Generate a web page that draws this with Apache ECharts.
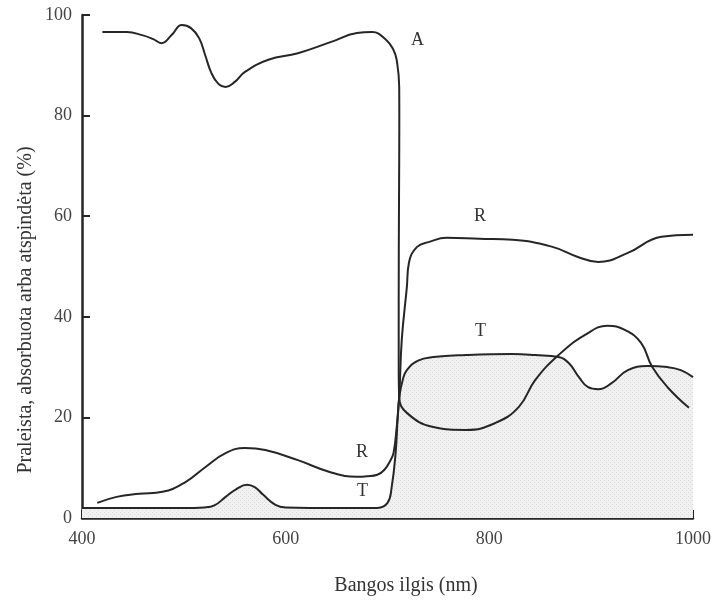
<!DOCTYPE html>
<html>
<head>
<meta charset="utf-8">
<script src="https://cdn.jsdelivr.net/npm/echarts@6/dist/echarts.min.js"></script>
<style>
  html, body { margin: 0; padding: 0; background: #fff; }
  #chart { width: 714px; height: 603px; }
</style>
</head>
<body>
<div id="chart"></div>
<script>
// wavelength (nm) and percent values
const tWave = [400, 450, 500, 520, 530, 541, 552, 562, 570, 578, 590, 600, 650, 690, 700, 704, 708, 710, 711.5, 715, 719, 730, 745, 777, 823, 845, 868, 878, 888, 897, 907, 920, 936, 955, 975, 988, 1000];
const tValue = [2, 2, 2, 2.1, 2.5, 4.2, 5.8, 6.6, 6.1, 4.6, 2.6, 2.1, 2, 2, 3, 6, 13, 20, 24, 27.5, 29.4, 31.3, 32, 32.4, 32.6, 32.4, 32, 30.8, 28, 26, 25.6, 26.8, 29.4, 30.2, 30, 29.4, 28];

const rWave = [415, 434, 456, 479, 502, 521, 541, 560, 580, 612, 644, 670, 680, 690, 697, 703, 706, 709, 711.5, 714, 719, 721, 729, 741, 758, 790, 823, 862, 887, 907, 936, 969, 1000];
const rValue = [3, 4.2, 4.8, 5.2, 7.2, 10.1, 12.9, 13.9, 13.5, 11.5, 9.1, 8.2, 8.3, 8.6, 9.6, 11.5, 13, 18, 24, 35.4, 45.9, 50.7, 53.9, 54.9, 55.7, 55.5, 55.3, 53.9, 51.9, 50.9, 52.7, 55.9, 56.3];

const aWave = [420, 444, 459, 470, 478, 488, 498, 507, 515, 521, 527, 534, 541, 550, 560, 583, 612, 644, 670, 685, 699, 706, 709, 711.5, 711.6, 711.3, 711, 711, 711.5, 719, 745, 777, 806, 829, 845, 868, 894, 916, 933, 949, 960, 975, 996];
const aValue = [96.6, 96.6, 96, 95.2, 94.4, 96, 98, 97.4, 95.4, 92, 88.5, 86.3, 85.7, 86.7, 88.7, 91.1, 92.4, 94.6, 96.4, 96.6, 95, 93, 91.1, 85.7, 79, 63, 43, 29.4, 24, 20.9, 18.1, 17.5, 18.9, 22.1, 27.4, 32.4, 36.4, 38.2, 37.4, 34.8, 30, 26, 21.9];

const xTicks = { min: 400, max: 1000, step: 200 };
const yTicks = { min: 0, max: 100, step: 20 };

const zip = (xs, ys) => xs.map((x, i) => [x, ys[i]]);

// light stipple used under the T curve
const dots = document.createElement('canvas');
dots.width = 4;
dots.height = 4;
const dctx = dots.getContext('2d');
dctx.fillStyle = '#f1f1f1';
dctx.fillRect(0, 0, 4, 4);
dctx.fillStyle = '#d9d9d9';
dctx.fillRect(0, 0, 1, 1);
dctx.fillRect(2, 2, 1, 1);

const serif = '"Liberation Serif", "DejaVu Serif", serif';
const lineColor = '#262626';

const chart = echarts.init(document.getElementById('chart'));

const lineSeries = (name, data, extra) => Object.assign({
  name: name,
  type: 'line',
  data: data,
  showSymbol: false,
  smooth: 0.45,
  lineStyle: { color: lineColor, width: 2 },
  animation: false
}, extra);

const label = (text, x, y, size) => ({
  type: 'text',
  left: x,
  top: y,
  style: { text: text, font: (size || 18) + 'px ' + serif, fill: '#333' }
});

chart.setOption({
  animation: false,
  grid: { left: 82, right: 15, top: 15, bottom: 85 },
  xAxis: {
    type: 'value',
    min: xTicks.min,
    max: xTicks.max,
    interval: xTicks.step,
    axisLine: { lineStyle: { color: lineColor, width: 2.5 } },
    axisTick: { inside: true, length: 8, lineStyle: { color: lineColor, width: 2 } },
    axisLabel: { margin: 12, fontFamily: serif, fontSize: 18, color: '#444', formatter: (v) => String(v) },
    splitLine: { show: false }
  },
  yAxis: {
    type: 'value',
    min: yTicks.min,
    max: yTicks.max,
    interval: yTicks.step,
    axisLine: { lineStyle: { color: lineColor, width: 2.5 } },
    axisTick: { inside: true, length: 8, lineStyle: { color: lineColor, width: 2 } },
    axisLabel: { margin: 10, fontFamily: serif, fontSize: 18, color: '#444', formatter: (v) => String(v) },
    splitLine: { show: false }
  },
  series: [
    lineSeries('T', zip(tWave, tValue), {
      areaStyle: { color: { image: dots, repeat: 'repeat' }, opacity: 1 }
    }),
    lineSeries('R', zip(rWave, rValue)),
    lineSeries('A', zip(aWave, aValue))
  ],
  graphic: [
    label('A', 411, 31),
    label('R', 474, 207),
    label('T', 475, 322),
    label('R', 356, 443),
    label('T', 357, 482),
    label('A', 473, 441),
    {
      type: 'text',
      x: 406,
      y: 586,
      style: { text: 'Bangos ilgis (nm)', font: '20px ' + serif, fill: '#333', align: 'center', verticalAlign: 'middle' }
    },
    {
      type: 'text',
      x: 26,
      y: 310,
      rotation: Math.PI / 2,
      style: { text: 'Praleista, absorbuota arba atspindėta (%)', font: '20px ' + serif, fill: '#333', align: 'center', verticalAlign: 'middle' }
    }
  ]
});
</script>
</body>
</html>
